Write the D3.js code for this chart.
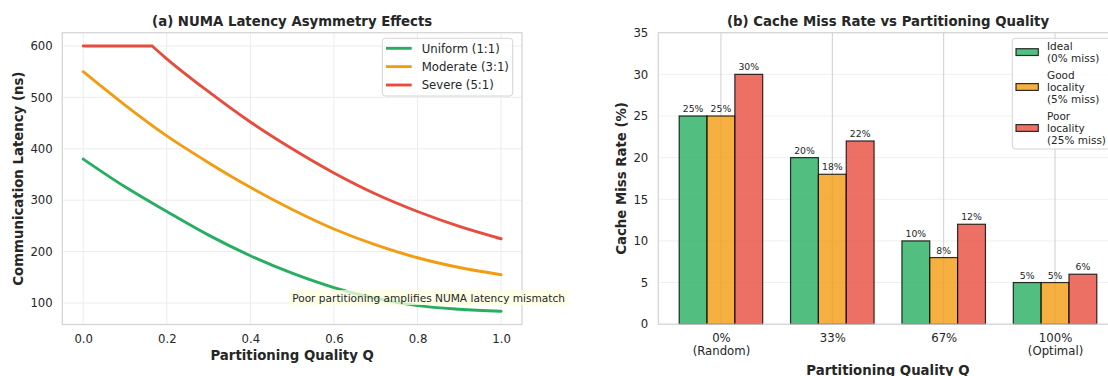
<!DOCTYPE html>
<html><head><meta charset="utf-8">
<script src="https://cdn.jsdelivr.net/npm/d3@7"></script>
<style>
body{margin:0;background:#fff;}
svg{display:block;font-family:"DejaVu Sans",sans-serif;}
</style></head><body>
<svg id="chart" width="1108" height="376"></svg>
<script>
// ---- Panel (a): communication latency vs partitioning quality ----
const qValues = [0, 0.1, 0.2, 0.3, 0.4, 0.5, 0.6, 0.7, 0.8, 0.9, 1.0];
const uniformLatency = [380, 326, 278, 232, 192, 158, 130, 109, 95, 88, 84];
const moderateLatency = [550, 485, 425, 373, 325, 282, 244, 213, 188, 169, 155];
const severeQ = [0, 0.1, 0.165, 0.2, 0.3, 0.4, 0.5, 0.6, 0.7, 0.8, 0.9, 1.0];
const severeLatency = [600, 600, 600, 575, 511, 452, 400, 353, 312, 278, 249, 225];
const latencyNames = ["Uniform (1:1)", "Moderate (3:1)", "Severe (5:1)"];
const qTicks = [0, 0.2, 0.4, 0.6, 0.8, 1.0];
const latencyTicks = [100, 200, 300, 400, 500, 600];
const noteText = "Poor partitioning amplifies NUMA latency mismatch";
const notePos = [0.5, 110];

// ---- Panel (b): cache miss rate per partitioning level ----
const qualityLevels = ["0%\n(Random)", "33%", "67%", "100%\n(Optimal)"];
const idealMiss = [25, 20, 10, 5];
const goodMiss = [25, 18, 8, 5];
const poorMiss = [30, 22, 12, 6];
const missNames = ["Ideal\n(0% miss)", "Good\nlocality\n(5% miss)", "Poor\nlocality\n(25% miss)"];
const missTicks = [0, 5, 10, 15, 20, 25, 30, 35];

const palette = ["#27ae60", "#f39c12", "#e74c3c"];
const textColor = "#262626";
const svg = d3.select("#chart");

// ================= Panel (a) =================
{
  const box = {left: 62.3, right: 522, top: 32.7, bottom: 324.5};
  const x = d3.scaleLinear().domain([-0.05, 1.05]).range([box.left, box.right]);
  const all = uniformLatency.concat(moderateLatency, severeLatency);
  const [lo, hi] = d3.extent(all);
  const pad = (hi - lo) * 0.05;
  const y = d3.scaleLinear().domain([lo - pad, hi + pad]).range([box.bottom, box.top]);
  const g = svg.append("g");

  // grid
  g.append("g").selectAll("line").data(qTicks).join("line")
    .attr("x1", d => x(d)).attr("x2", d => x(d))
    .attr("y1", box.top).attr("y2", box.bottom)
    .attr("stroke", "#ececec").attr("stroke-width", 1);
  g.append("g").selectAll("line").data(latencyTicks).join("line")
    .attr("x1", box.left).attr("x2", box.right)
    .attr("y1", d => y(d)).attr("y2", d => y(d))
    .attr("stroke", "#ececec").attr("stroke-width", 1);

  // axes
  const xAxis = g.append("g").attr("transform", `translate(0,${box.bottom})`)
    .call(d3.axisBottom(x).tickValues(qTicks).tickFormat(d3.format(".1f")).tickSize(0).tickPadding(10));
  const yAxis = g.append("g").attr("transform", `translate(${box.left},0)`)
    .call(d3.axisLeft(y).tickValues(latencyTicks).tickSize(0).tickPadding(9.6));
  [xAxis, yAxis].forEach(a => {
    a.select(".domain").remove();
    a.selectAll("text").attr("font-size", 11.7).attr("fill", textColor).attr("font-family", "DejaVu Sans");
  });

  // lines: a flat plateau (if any) is drawn straight, the rest smooth
  const series = [
    {qs: qValues, vals: uniformLatency},
    {qs: qValues, vals: moderateLatency},
    {qs: severeQ, vals: severeLatency}
  ];
  const lineLin = d3.line().x(d => x(d[0])).y(d => y(d[1]));
  const lineSmooth = d3.line().x(d => x(d[0])).y(d => y(d[1])).curve(d3.curveMonotoneX);
  series.forEach((s, i) => {
    const pts = s.qs.map((q, j) => [q, s.vals[j]]);
    let k = 0;
    while (k + 1 < pts.length && pts[k + 1][1] === pts[0][1]) k++;
    let path = "";
    if (k > 0) path += lineLin(pts.slice(0, k + 1));
    path += lineSmooth(pts.slice(k));
    g.append("path").attr("d", path).attr("fill", "none")
      .attr("stroke", palette[i]).attr("stroke-width", 2.9)
      .attr("stroke-linejoin", "round").attr("stroke-linecap", "round");
  });

  // frame
  g.append("rect").attr("x", box.left).attr("y", box.top)
    .attr("width", box.right - box.left).attr("height", box.bottom - box.top)
    .attr("fill", "none").attr("stroke", "#d4d4d4").attr("stroke-width", 1.25);

  // legend
  const lg = g.append("g");
  lg.append("rect").attr("x", 382.3).attr("y", 38.3).attr("width", 130.4).attr("height", 57.7)
    .attr("rx", 3).attr("fill", "#fff").attr("fill-opacity", 0.8)
    .attr("stroke", "#d4d4d4").attr("stroke-width", 1);
  latencyNames.forEach((name, i) => {
    const cy = 48.3 + i * 18.35;
    lg.append("line").attr("x1", 386).attr("x2", 411.7).attr("y1", cy).attr("y2", cy)
      .attr("stroke", palette[i]).attr("stroke-width", 2.9);
    lg.append("text").attr("x", 421.7).attr("y", cy).attr("dy", "0.36em")
      .attr("font-size", 11.7).attr("fill", textColor).text(name);
  });

  // annotation with a pale yellow box
  const ng = g.append("g");
  const nt = ng.append("text").attr("x", x(notePos[0])).attr("y", y(notePos[1]))
    .attr("dy", "0.35em").attr("font-size", 10.6).attr("fill", textColor).text(noteText);
  const bb = nt.node().getBBox();
  ng.insert("rect", "text").attr("x", bb.x - 3).attr("y", bb.y - 1.5)
    .attr("width", bb.width + 6).attr("height", bb.height + 3).attr("rx", 3)
    .attr("fill", "#ffffe0").attr("fill-opacity", 0.75);

  // titles
  const cx = (box.left + box.right) / 2;
  g.append("text").attr("x", cx).attr("y", 25.5).attr("text-anchor", "middle")
    .attr("font-size", 13.3).attr("font-weight", "bold").attr("fill", textColor)
    .text("(a) NUMA Latency Asymmetry Effects");
  g.append("text").attr("x", cx).attr("y", 359.5).attr("text-anchor", "middle")
    .attr("font-size", 13.3).attr("font-weight", "bold").attr("fill", textColor)
    .text("Partitioning Quality Q");
  g.append("text").attr("transform", `translate(23,${(box.top + box.bottom) / 2}) rotate(-90)`)
    .attr("text-anchor", "middle").attr("font-size", 13.3).attr("font-weight", "bold")
    .attr("fill", textColor).text("Communication Latency (ns)");
}

// ================= Panel (b) =================
{
  const box = {left: 658.3, right: 1117.7, top: 32.7, bottom: 324.2};
  const nGroups = qualityLevels.length;
  const barW = 0.25;
  const x = d3.scaleLinear().domain([-0.5625, nGroups - 1 + 0.5625]).range([box.left, box.right]);
  const y = d3.scaleLinear().domain([0, 35]).range([box.bottom, box.top]);
  const g = svg.append("g");
  const idx = d3.range(nGroups);

  // grid
  g.append("g").selectAll("line").data(missTicks).join("line")
    .attr("x1", box.left).attr("x2", box.right)
    .attr("y1", d => y(d)).attr("y2", d => y(d))
    .attr("stroke", "#efefef").attr("stroke-width", 1);
  g.append("g").selectAll("line").data(idx).join("line")
    .attr("x1", d => x(d)).attr("x2", d => x(d))
    .attr("y1", box.top).attr("y2", box.bottom)
    .attr("stroke", "#cfcfcf").attr("stroke-width", 1);

  // bars
  const missSeries = [idealMiss, goodMiss, poorMiss];
  missSeries.forEach((vals, s) => {
    const off = (s - 1) * barW;
    g.append("g").selectAll("rect").data(vals).join("rect")
      .attr("x", (d, i) => x(i + off - barW / 2))
      .attr("width", (d, i) => x(i + off + barW / 2) - x(i + off - barW / 2))
      .attr("y", d => y(d)).attr("height", d => y(0) - y(d))
      .attr("fill", palette[s]).attr("fill-opacity", 0.8)
      .attr("stroke", "#000").attr("stroke-opacity", 0.8).attr("stroke-width", 1.2);
    g.append("g").selectAll("text").data(vals).join("text")
      .attr("x", (d, i) => x(i + off)).attr("y", d => y(d) - 4)
      .attr("text-anchor", "middle").attr("font-size", 9.3).attr("fill", textColor)
      .text(d => `${d}%`);
  });

  // axes
  const xAxis = g.append("g").attr("transform", `translate(0,${box.bottom})`)
    .call(d3.axisBottom(x).tickValues(idx).tickFormat(i => qualityLevels[i]).tickSize(0).tickPadding(10));
  xAxis.selectAll("text").each(function(d) {
    const t = d3.select(this);
    const lines = qualityLevels[d].split("\n");
    t.text(null);
    lines.forEach((ln, j) => t.append("tspan").attr("x", 0).attr("dy", j === 0 ? "0.71em" : "1.1em").text(ln));
  });
  const yAxis = g.append("g").attr("transform", `translate(${box.left},0)`)
    .call(d3.axisLeft(y).tickValues(missTicks).tickSize(0).tickPadding(10));
  [xAxis, yAxis].forEach(a => {
    a.select(".domain").remove();
    a.selectAll("text").attr("font-size", 11.7).attr("fill", textColor).attr("font-family", "DejaVu Sans");
  });

  // frame
  g.append("rect").attr("x", box.left).attr("y", box.top)
    .attr("width", box.right - box.left).attr("height", box.bottom - box.top)
    .attr("fill", "none").attr("stroke", "#d4d4d4").attr("stroke-width", 1.25);

  // legend with multi-line labels
  const lg = g.append("g");
  lg.append("rect").attr("x", 1012.3).attr("y", 38.3).attr("width", 100).attr("height", 110.7)
    .attr("rx", 3).attr("fill", "#fff").attr("fill-opacity", 0.8)
    .attr("stroke", "#d4d4d4").attr("stroke-width", 1);
  const lineH = 12.2;
  let top = 46;
  missNames.forEach((name, s) => {
    const lines = name.split("\n");
    const mid = top + (lines.length - 1) * lineH / 2;
    lg.append("rect").attr("x", 1016).attr("y", mid - 3.4).attr("width", 22.3).attr("height", 6.8)
      .attr("fill", palette[s]).attr("fill-opacity", 0.8)
      .attr("stroke", "#000").attr("stroke-opacity", 0.8).attr("stroke-width", 1.2);
    lines.forEach((ln, j) => {
      lg.append("text").attr("x", 1047).attr("y", top + j * lineH).attr("dy", "0.36em")
        .attr("font-size", 10.5).attr("fill", textColor).text(ln);
    });
    top += lines.length * lineH + 4.4;
  });

  // titles
  const cx = (box.left + box.right) / 2;
  g.append("text").attr("x", cx).attr("y", 25.5).attr("text-anchor", "middle")
    .attr("font-size", 13.3).attr("font-weight", "bold").attr("fill", textColor)
    .text("(b) Cache Miss Rate vs Partitioning Quality");
  g.append("text").attr("x", cx).attr("y", 374.5).attr("text-anchor", "middle")
    .attr("font-size", 13.3).attr("font-weight", "bold").attr("fill", textColor)
    .text("Partitioning Quality Q");
  g.append("text").attr("transform", `translate(626,${(box.top + box.bottom) / 2}) rotate(-90)`)
    .attr("text-anchor", "middle").attr("font-size", 13.3).attr("font-weight", "bold")
    .attr("fill", textColor).text("Cache Miss Rate (%)");
}
</script>
</body></html>
